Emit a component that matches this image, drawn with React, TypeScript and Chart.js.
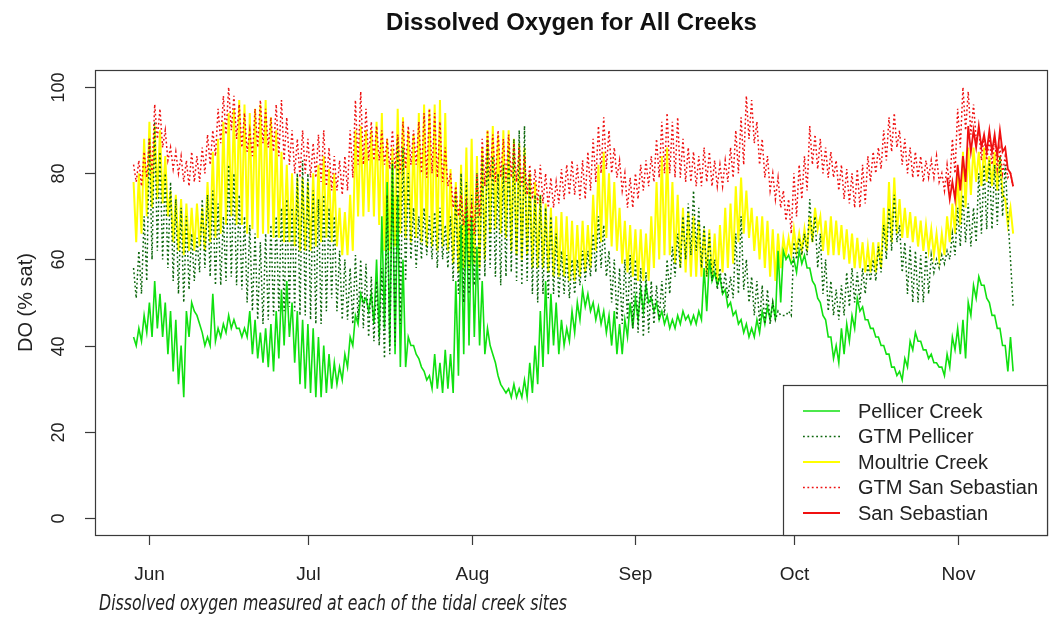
import { useEffect, useRef } from "react";
import { Chart, registerables } from "chart.js";

Chart.register(...registerables);

// ---------- data (day offsets from 1 June; each day: tidal high, then low half a day later) ----------
const FIRST_DAY = -3; // 29 May
const SAN_SEB_FIRST_DAY = 151; // 30 Oct

const monthTickDays = [0, 30, 61, 92, 122, 153];
const monthTickLabels = ["Jun", "Jul", "Aug", "Sep", "Oct", "Nov"];
const yTickValues = [0, 20, 40, 60, 80, 100];

const titleText = "Dissolved Oxygen for All Creeks";
const yAxisTitle = "DO (% sat)";
const captionText = "Dissolved oxygen measured at each of the tidal creek sites";

const seriesNames = ["Pellicer Creek", "GTM Pellicer", "Moultrie Creek", "GTM San Sebastian", "San Sebastian"];

// Pellicer Creek (green, solid)
const pellicerHigh = [
  42, 44, 47, 50, 55, 52, 50, 48, 46, 40,
  48, 50, 47, 43, 42, 52, 44, 45, 47, 46,
  44, 44, 48, 46, 43, 44, 45, 48, 53, 55,
  50, 48, 46, 45, 44, 42, 40, 38, 36, 35,
  38, 42, 47, 52, 51, 52, 60, 70, 78, 82,
  75, 60, 42, 40, 37, 34, 33, 38, 36, 39,
  38, 55, 68, 74, 70, 63, 55, 44, 38, 33,
  30, 30, 31, 30, 32, 36, 40, 48, 55, 52,
  50, 46, 44, 48, 50, 53, 52, 50, 49, 48,
  47, 48, 45, 46, 50, 51, 53, 54, 51, 50,
  48, 47, 46, 47, 48, 47, 47, 48, 58, 60,
  57, 56, 53, 50, 48, 46, 45, 44, 46, 48,
  49, 50, 62, 62, 61, 60, 62, 61, 58, 54,
  50, 46, 42, 40, 44, 45, 47, 51, 49, 46,
  44, 42, 40, 38, 35, 34, 37, 41, 43, 41,
  39, 38, 36, 35, 38, 42, 44, 46, 50, 54,
  56, 54, 50, 47, 44, 40, 42,
];
const pellicerLow = [
  40, 41, 43, 42, 44, 42, 38, 34, 31, 28,
  42, 48, 45, 40, 40, 41, 42, 43, 44, 44,
  42, 42, 38, 37, 36, 35, 34, 37, 40, 42,
  36, 31, 30, 29, 28, 28, 29, 30, 31, 32,
  35, 40, 45, 50, 48, 45, 42, 44, 40, 38,
  35, 35, 40, 38, 35, 32, 30, 30, 29, 30,
  29, 33, 38, 40, 42, 40, 38, 40, 36, 31,
  29, 28, 28, 28, 28, 29, 31, 35, 38, 40,
  38, 40, 41, 43, 46, 49, 48, 46, 45, 43,
  40, 38, 38, 42, 44, 46, 48, 50, 48, 46,
  45, 44, 44, 45, 46, 45, 45, 46, 48, 55,
  54, 52, 49, 47, 45, 43, 42, 42, 43, 45,
  46, 46, 50, 60, 59, 57, 59, 58, 55, 51,
  47, 42, 37, 36, 38, 41, 44, 48, 46, 44,
  42, 40, 38, 35, 33, 32, 35, 39, 41, 39,
  37, 36, 35, 33, 35, 39, 38, 37, 47, 51,
  54, 51, 47, 44, 40, 34, 34,
];

// GTM Pellicer (dark green, dotted)
const gtmPellicerHigh = [
  58, 62, 70, 88, 92, 85, 80, 78, 74, 72,
  70, 66, 65, 74, 75, 76, 73, 70, 82, 80,
  75, 70, 68, 66, 64, 66, 68, 70, 72, 74,
  72, 80, 83, 80, 76, 74, 75, 72, 70, 62,
  60, 58, 61, 60, 59, 56, 55, 58, 75, 83,
  88, 86, 80, 72, 70, 72, 70, 71, 72, 68,
  70, 76, 80, 78, 75, 80, 84, 88, 84, 80,
  82, 86, 88, 90, 91, 80, 75, 75, 72, 70,
  66, 62, 61, 60, 60, 62, 62, 66, 70, 68,
  62, 60, 58, 60, 61, 60, 58, 57, 55, 54,
  55, 60, 63, 66, 70, 73, 76, 72, 68, 66,
  60, 58, 57, 56, 66, 70, 60, 56, 55, 54,
  53, 50, 48, 47, 48, 64, 65, 66, 74, 70,
  66, 60, 55, 53, 54, 57, 58, 57, 58, 59,
  60, 63, 68, 72, 75, 68, 64, 63, 62, 61,
  62, 61, 60, 61, 62, 66, 72, 75, 73, 72,
  80, 82, 83, 82, 84, 82, 60,
];
const gtmPellicerLow = [
  51, 52, 55, 60, 62, 60, 58, 55, 52, 50,
  53, 55, 57, 58, 56, 54, 54, 55, 56, 54,
  53, 50, 48, 46, 45, 46, 47, 48, 48, 49,
  48, 47, 47, 46, 45, 45, 48, 51, 48, 46,
  46, 45, 46, 44, 42, 41, 40, 37, 38, 40,
  45, 55, 60, 58, 60, 61, 60, 58, 60, 58,
  55, 52, 50, 52, 54, 55, 56, 58, 56, 54,
  56, 57, 55, 54, 55, 52, 50, 52, 51, 52,
  51, 52, 51, 52, 54, 55, 56, 57, 58, 56,
  50, 46, 45, 46, 44, 43, 42, 43, 45, 46,
  47, 52, 56, 58, 60, 61, 62, 58, 56, 55,
  53, 52, 51, 51, 52, 53, 50, 47, 45, 45,
  45, 46, 47, 47, 47, 60, 61, 61, 64, 58,
  52, 48, 47, 46, 47, 49, 50, 50, 52, 55,
  55, 57, 60, 62, 64, 57, 52, 50, 50, 50,
  52, 57, 58, 59, 60, 61, 63, 64, 63, 64,
  66, 67, 67, 68, 70, 70, 49,
];

// Moultrie Creek (yellow, solid)
const moultrieHigh = [
  78, 80, 88, 92, 91, 90, 84, 76, 75, 74,
  73, 72, 73, 72, 78, 85, 88, 92, 94, 95,
  97, 96, 94, 95, 96, 97, 93, 90, 85, 82,
  80, 79, 79, 78, 80, 82, 84, 81, 80, 72,
  71, 75, 90, 91, 90, 90, 92, 94, 88, 86,
  95, 93, 90, 89, 94, 96, 95, 96, 97, 94,
  81, 78, 82, 86, 88, 84, 86, 90, 91, 89,
  90, 90, 88, 87, 86, 80, 78, 75, 73, 72,
  70, 71, 70, 69, 68, 69, 68, 75, 82, 85,
  80, 78, 72, 69, 68, 67, 67, 66, 70, 78,
  84, 86, 78, 75, 72, 71, 70, 69, 67, 67,
  66, 68, 72, 73, 77, 79, 76, 72, 70, 70,
  69, 67, 66, 65, 65, 67, 66, 67, 70, 72,
  70, 69, 70, 69, 68, 67, 66, 65, 64, 63,
  64, 64, 72, 78, 79, 74, 72, 71, 70, 69,
  68, 67, 66, 66, 70, 73, 80, 85, 86, 86,
  85, 86, 84, 85, 84, 74, 72,
];
const moultrieLow = [
  64, 66, 70, 72, 74, 73, 70, 64, 62, 61,
  62, 62, 63, 62, 64, 65, 66, 68, 70, 68,
  68, 66, 67, 65, 66, 66, 65, 65, 64, 64,
  63, 62, 62, 62, 63, 64, 65, 64, 63, 61,
  61, 62, 70, 70, 71, 70, 68, 62, 62, 63,
  66, 65, 64, 65, 64, 63, 63, 62, 63, 62,
  59, 57, 58, 58, 59, 58, 60, 66, 67, 66,
  65, 62, 61, 60, 61, 58, 58, 58, 57, 56,
  56, 56, 55, 55, 56, 57, 58, 62, 64, 65,
  63, 62, 59, 57, 56, 55, 55, 55, 58, 60,
  61, 61, 59, 58, 57, 56, 56, 56, 56, 55,
  55, 57, 58, 59, 64, 66, 65, 62, 60, 58,
  56, 55, 58, 61, 61, 62, 62, 62, 64, 67,
  62, 61, 61, 61, 60, 59, 58, 58, 57, 57,
  57, 58, 62, 64, 66, 65, 65, 64, 63, 62,
  62, 61, 60, 61, 64, 66, 68, 72, 75, 78,
  77, 78, 77, 76, 75, 68, 66,
];

// GTM San Sebastian (red, dotted)
const gtmSanSebHigh = [
  82, 83, 85, 88, 96, 95, 90, 86, 85, 84,
  83, 85, 84, 86, 89, 90, 95, 98, 100, 98,
  96, 94, 90, 95, 97, 95, 93, 96, 97, 93,
  90, 88, 90, 88, 87, 89, 90, 86, 84, 83,
  84, 90, 97, 99, 95, 92, 91, 90, 88, 90,
  89, 92, 91, 90, 92, 94, 95, 94, 92, 86,
  80, 77, 75, 73, 72, 80, 88, 90, 89, 90,
  88, 89, 87, 86, 84, 82, 81, 82, 80, 79,
  78, 81, 82, 83, 82, 83, 85, 88, 91, 93,
  90, 86, 83, 80, 79, 80, 82, 83, 84, 88,
  92, 94, 92, 93, 88, 86, 85, 84, 86, 85,
  83, 82, 83, 86, 90, 93, 98, 97, 92, 88,
  84, 80, 79, 76, 74, 80, 82, 84, 91, 89,
  88, 86, 85, 83, 82, 81, 80, 81, 82, 84,
  85, 86, 90, 93, 94, 90, 88, 86, 85, 84,
  83, 83, 84, 80, 82, 88, 95, 100, 99, 96,
  90, 89, 88, 88, 86, 84, 80,
];
const gtmSanSebLow = [
  78, 77, 79, 80, 88, 86, 83, 81, 80, 78,
  77, 78, 78, 80, 82, 84, 87, 89, 90, 88,
  86, 85, 84, 86, 87, 86, 85, 84, 83, 82,
  80, 79, 80, 79, 79, 78, 77, 76, 76, 75,
  76, 79, 82, 82, 83, 83, 83, 82, 81, 81,
  80, 81, 82, 82, 80, 79, 80, 79, 78, 77,
  72, 70, 68, 66, 66, 70, 77, 79, 78, 79,
  78, 79, 78, 77, 75, 74, 73, 73, 72, 72,
  73, 74, 75, 75, 74, 74, 76, 78, 80, 81,
  80, 79, 76, 72, 72, 74, 76, 77, 78, 79,
  80, 80, 79, 79, 78, 78, 77, 77, 78, 77,
  77, 77, 78, 79, 80, 82, 88, 87, 82, 79,
  76, 74, 72, 69, 66, 70, 74, 76, 82, 81,
  80, 79, 79, 76, 74, 73, 72, 72, 73, 78,
  80, 81, 83, 85, 86, 82, 80, 79, 79, 78,
  79, 79, 78, 76, 77, 80, 86, 90, 89, 88,
  83, 83, 82, 81, 80, 79, 77,
];

// San Sebastian (red, solid) — only from 30 Oct
const sanSebHigh = [79, 78, 82, 84, 91, 90, 91, 89, 90, 89, 90, 86, 80];
const sanSebLow = [74, 74, 76, 78, 85, 86, 86, 85, 85, 84, 85, 81, 77];

// ---------- styling ----------
const COLORS = {
  pellicer: "#10e010",
  gtmPellicer: "#0b650b",
  moultrie: "#ffff00",
  gtmSanSeb: "#ee1111",
  sanSeb: "#f01010",
};
const DOT = [1.8, 2.6];
const FONT = "'Liberation Sans', Arial, Helvetica, sans-serif";

function tidalPoints(firstDay: number, hi: number[], lo: number[]) {
  const pts: { x: number; y: number }[] = [];
  hi.forEach((h, i) => {
    pts.push({ x: firstDay + i, y: h });
    pts.push({ x: firstDay + i + 0.5, y: lo[i] });
  });
  return pts;
}

const legendStyles = [
  { color: COLORS.pellicer, dash: [] as number[], width: 1.6 },
  { color: COLORS.gtmPellicer, dash: DOT, width: 1.5 },
  { color: COLORS.moultrie, dash: [] as number[], width: 2 },
  { color: COLORS.gtmSanSeb, dash: DOT, width: 1.5 },
  { color: COLORS.sanSeb, dash: [] as number[], width: 1.8 },
];

const rStylePlugin = {
  id: "rStyle",
  afterDraw(chart: any) {
    const { ctx, chartArea: a, scales } = chart;
    const xs = scales.x;
    const ys = scales.y;
    ctx.save();
    ctx.setLineDash([]);
    ctx.strokeStyle = "#3a3a3a";
    ctx.lineWidth = 1.2;
    // plot frame
    ctx.strokeRect(a.left + 0.5, a.top + 0.5, a.right - a.left - 1, a.bottom - a.top);

    ctx.fillStyle = "#222";
    // y axis ticks + rotated labels
    ctx.font = `18px ${FONT}`;
    yTickValues.forEach((v) => {
      const y = Math.round(ys.getPixelForValue(v)) + 0.5;
      ctx.beginPath();
      ctx.moveTo(a.left - 10, y);
      ctx.lineTo(a.left, y);
      ctx.stroke();
      ctx.save();
      ctx.translate(64, y);
      ctx.rotate(-Math.PI / 2);
      ctx.textAlign = "center";
      ctx.textBaseline = "alphabetic";
      ctx.fillText(String(v), 0, 0);
      ctx.restore();
    });

    // x axis ticks + month labels
    ctx.font = `19px ${FONT}`;
    monthTickDays.forEach((d, i) => {
      const x = Math.round(xs.getPixelForValue(d)) + 0.5;
      ctx.beginPath();
      ctx.moveTo(x, a.bottom);
      ctx.lineTo(x, a.bottom + 10);
      ctx.stroke();
      ctx.textAlign = "center";
      ctx.textBaseline = "alphabetic";
      ctx.fillText(monthTickLabels[i], x, 580);
    });

    // y axis title
    ctx.save();
    ctx.font = `20px ${FONT}`;
    ctx.translate(32, (a.top + a.bottom) / 2);
    ctx.rotate(-Math.PI / 2);
    ctx.textAlign = "center";
    ctx.fillText(yAxisTitle, 0, 0);
    ctx.restore();

    // main title
    ctx.font = `bold 24px ${FONT}`;
    ctx.fillStyle = "#111";
    ctx.textAlign = "center";
    ctx.fillText(titleText, (a.left + a.right) / 2, 30);

    // legend box (bottom right, flush with plot region)
    const lx = 783;
    const ly = 385;
    ctx.fillStyle = "#fff";
    ctx.fillRect(lx, ly, a.right - lx, a.bottom - ly);
    ctx.strokeStyle = "#3a3a3a";
    ctx.lineWidth = 1.2;
    ctx.strokeRect(lx + 0.5, ly + 0.5, a.right - lx - 1, a.bottom - ly);
    ctx.font = `20px ${FONT}`;
    ctx.textAlign = "left";
    ctx.textBaseline = "middle";
    seriesNames.forEach((name, i) => {
      const y = 411 + i * 25.5;
      const st = legendStyles[i];
      ctx.strokeStyle = st.color;
      ctx.lineWidth = st.width;
      ctx.setLineDash(st.dash);
      ctx.beginPath();
      ctx.moveTo(803, y);
      ctx.lineTo(840, y);
      ctx.stroke();
      ctx.setLineDash([]);
      ctx.fillStyle = "#222";
      ctx.fillText(name, 858, y + 1);
    });
    ctx.restore();
  },
};

export default function App() {
  const canvasRef = useRef<HTMLCanvasElement>(null);

  useEffect(() => {
    const canvas = canvasRef.current;
    if (!canvas) return;
    const chart = new Chart(canvas, {
      type: "line",
      data: {
        datasets: [
          {
            label: seriesNames[4],
            data: tidalPoints(SAN_SEB_FIRST_DAY, sanSebHigh, sanSebLow),
            borderColor: COLORS.sanSeb,
            borderWidth: 1.8,
            order: 0,
          },
          {
            label: seriesNames[3],
            data: tidalPoints(FIRST_DAY, gtmSanSebHigh, gtmSanSebLow),
            borderColor: COLORS.gtmSanSeb,
            borderWidth: 1.5,
            borderDash: DOT,
            order: 1,
          },
          {
            label: seriesNames[1],
            data: tidalPoints(FIRST_DAY, gtmPellicerHigh, gtmPellicerLow),
            borderColor: COLORS.gtmPellicer,
            borderWidth: 1.5,
            borderDash: DOT,
            order: 2,
          },
          {
            label: seriesNames[0],
            data: tidalPoints(FIRST_DAY, pellicerHigh, pellicerLow),
            borderColor: COLORS.pellicer,
            borderWidth: 1.6,
            order: 3,
          },
          {
            label: seriesNames[2],
            data: tidalPoints(FIRST_DAY, moultrieHigh, moultrieLow),
            borderColor: COLORS.moultrie,
            borderWidth: 2,
            order: 4,
          },
        ],
      },
      options: {
        animation: false,
        responsive: false,
        devicePixelRatio: 1,
        layout: { padding: { left: 95, top: 70, right: 2, bottom: 82 } },
        elements: {
          point: { radius: 0, hoverRadius: 0 },
          line: { tension: 0, fill: false },
        },
        scales: {
          x: { type: "linear", min: -10.3, max: 170.1, display: false },
          y: { type: "linear", min: -4, max: 104, display: false },
        },
        plugins: {
          legend: { display: false },
          title: { display: false },
          tooltip: { enabled: false },
        },
        events: [],
      },
      plugins: [rStylePlugin],
    });
    return () => chart.destroy();
  }, []);

  return (
    <div
      style={{
        position: "absolute",
        left: 0,
        top: 0,
        width: 1050,
        height: 617,
        background: "#fff",
        overflow: "hidden",
      }}
    >
      <canvas
        ref={canvasRef}
        width={1050}
        height={617}
        style={{ position: "absolute", left: 0, top: 0, width: 1050, height: 617 }}
      />
      <div
        style={{
          position: "absolute",
          left: 99,
          top: 592,
          font: "italic 21px 'DejaVu Sans Condensed', sans-serif",
          lineHeight: "22px",
          color: "#222",
          whiteSpace: "nowrap",
          transform: "scaleX(0.834)",
          transformOrigin: "0 0",
        }}
      >
        {captionText}
      </div>
    </div>
  );
}
